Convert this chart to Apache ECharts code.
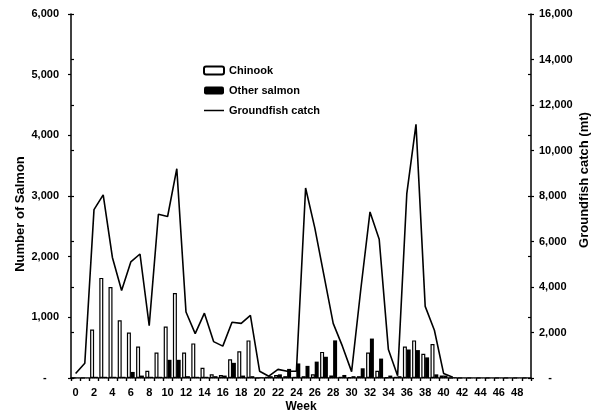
<!DOCTYPE html>
<html>
<head>
<meta charset="utf-8">
<script src="https://cdn.jsdelivr.net/npm/echarts@6/dist/echarts.min.js"></script>
<style>
html,body{margin:0;padding:0;background:#fff;}
#chart{width:602px;height:415px;}
</style>
</head>
<body>
<div id="chart"></div>
<script>
var weeks = [];
for (var w = 0; w <= 49; w++) weeks.push(String(w));

var chinook = [0, 0, 800, 1650, 1500, 950, 750, 520, 120, 420,
  850, 1400, 420, 570, 170, 60, 50, 310, 440, 620,
  0, 20, 50, 30, 20, 30, 60, 430, 40, 20,
  10, 30, 420, 120, 10, 20, 520, 620, 400, 560,
  40, 0, 0, 0, 0, 0, 0, 0, 0, 0];

var otherSalmon = [0, 0, 20, 20, 20, 20, 100, 40, 20, 20,
  300, 300, 30, 20, 20, 30, 40, 250, 40, 30,
  10, 30, 60, 150, 240, 200, 270, 350, 620, 50,
  30, 160, 650, 320, 40, 30, 470, 460, 340, 60,
  40, 10, 0, 0, 0, 0, 0, 0, 0, 0];

var groundfish = [200, 650, 7400, 8050, 5300, 3850, 5100, 5450, 2300, 7200,
  7100, 9200, 2900, 1950, 2850, 1600, 1400, 2450, 2400, 2750,
  300, 80, 380, 300, 300, 8350, 6600, 4500, 2400, 1400,
  280, 3900, 7300, 6100, 1250, 100, 8100, 11150, 3150, 2100,
  200, 30, null, null, null, null, null, null, null, null];

var FONT = 'Liberation Sans, Arial, sans-serif';
var chart = echarts.init(document.getElementById('chart'));

function fmtLeft(v) { return v === 0 ? '-    ' : v.toLocaleString('en-US'); }
function fmtRight(v) { return v === 0 ? '   -' : v.toLocaleString('en-US'); }

var labelStyle = { color: '#000', fontFamily: FONT, fontWeight: 'bold', fontSize: 11 };

chart.setOption({
  animation: false,
  backgroundColor: '#fff',
  grid: { left: 71, right: 71, top: 14, bottom: 37, containLabel: false, outerBoundsMode: 'none' },
  legend: {
    orient: 'vertical',
    left: 203, top: 65, padding: 0,
    itemWidth: 20, itemHeight: 8, itemGap: 9,
    textStyle: { color: '#000', fontFamily: FONT, fontWeight: 'bold', fontSize: 11 },
    data: [
      { name: 'Chinook' },
      { name: 'Other salmon' },
      { name: 'Groundfish catch', icon: 'path://M0,0 H20 V1.5 H0 Z' }
    ]
  },
  xAxis: [
    {
      type: 'category', data: weeks, position: 'bottom',
      name: 'Week', nameLocation: 'middle', nameGap: 23, nameMoveOverlap: false,
      nameTextStyle: { color: '#000', fontFamily: FONT, fontWeight: 'bold', fontSize: 12 },
      axisLine: { lineStyle: { color: '#000', width: 1.5 } },
      axisTick: { show: true, length: 3, interval: 0, lineStyle: { color: '#000', width: 1.2 } },
      axisLabel: Object.assign({ interval: 1, margin: 9 }, labelStyle),
      splitLine: { show: false }
    },
    {
      type: 'category', data: weeks, position: 'top',
      axisLine: { lineStyle: { color: '#777', width: 1, type: 'dotted' } },
      axisTick: { show: false }, axisLabel: { show: false }, splitLine: { show: false }
    },
    {
      type: 'category', data: weeks, position: 'bottom', offset: -364,
      axisLine: { show: false },
      axisTick: { show: true, length: 3, interval: 0, lineStyle: { color: '#000', width: 1.2 } },
      axisLabel: { show: false }, splitLine: { show: false }
    }
  ],
  yAxis: [
    {
      type: 'value', min: 0, max: 6000, interval: 1000, position: 'left',
      name: 'Number of Salmon', nameLocation: 'middle', nameGap: 44, nameRotate: 90, nameMoveOverlap: false,
      nameTextStyle: { color: '#000', fontFamily: FONT, fontWeight: 'bold', fontSize: 13, padding: [0, 36, 0, 0] },
      axisLine: { show: true, lineStyle: { color: '#000', width: 1.5 } },
      axisTick: { show: true, length: 3, lineStyle: { color: '#000', width: 1.2 } },
      axisLabel: Object.assign({ margin: 12, formatter: fmtLeft }, labelStyle),
      splitLine: { show: false }
    },
    {
      type: 'value', min: 0, max: 16000, interval: 2000, position: 'right',
      name: 'Groundfish catch (mt)', nameLocation: 'middle', nameGap: 47, nameRotate: 90, nameMoveOverlap: false,
      nameTextStyle: { color: '#000', fontFamily: FONT, fontWeight: 'bold', fontSize: 13, padding: [0, 0, 0, 32] },
      axisLine: { show: true, lineStyle: { color: '#000', width: 1.5 } },
      axisTick: { show: true, length: 3, lineStyle: { color: '#000', width: 1.2 } },
      axisLabel: Object.assign({ margin: 8, formatter: fmtRight }, labelStyle),
      splitLine: { show: false }
    },
    {
      type: 'value', min: 0, max: 6000, interval: 1000, position: 'left', offset: -460,
      axisLine: { show: false },
      axisTick: { show: true, length: 3, lineStyle: { color: '#000', width: 1.2 } },
      axisLabel: { show: false }, splitLine: { show: false }
    },
    {
      type: 'value', min: 0, max: 16000, interval: 2000, position: 'right', offset: -460,
      axisLine: { show: false },
      axisTick: { show: true, length: 3, lineStyle: { color: '#000', width: 1.2 } },
      axisLabel: { show: false }, splitLine: { show: false }
    }
  ],
  series: [
    {
      name: 'Chinook', type: 'bar', data: chinook, xAxisIndex: 0, yAxisIndex: 0,
      barWidth: 4, barGap: '-5%',
      itemStyle: { color: '#fff', borderColor: '#000', borderWidth: 1.2 }
    },
    {
      name: 'Other salmon', type: 'bar', data: otherSalmon, xAxisIndex: 0, yAxisIndex: 0,
      barWidth: 4, barGap: '-5%',
      itemStyle: { color: '#000' }
    },
    {
      name: 'Groundfish catch', type: 'line', data: groundfish, xAxisIndex: 0, yAxisIndex: 1,
      symbol: 'none', connectNulls: false,
      lineStyle: { color: '#000', width: 1.6 },
      itemStyle: { color: '#000' }
    }
  ]
});
</script>
</body>
</html>
